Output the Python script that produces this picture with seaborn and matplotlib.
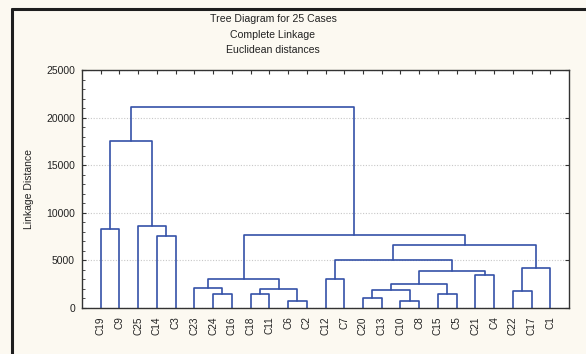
import matplotlib
matplotlib.use("Agg")
import matplotlib.pyplot as plt
from matplotlib.lines import Line2D
from matplotlib.ticker import MultipleLocator
import seaborn as sns
import pandas as pd

# ---- data ----
leaf_labels = ["C19", "C9", "C25", "C14", "C3", "C23", "C24", "C16", "C18", "C11",
               "C6", "C2", "C12", "C7", "C20", "C13", "C10", "C8", "C15", "C5",
               "C21", "C4", "C22", "C17", "C1"]
merge_names = ["m1", "m2", "m3", "m4", "m5", "m6", "m7", "m8", "m9", "m10", "m11", "m12",
               "m13", "m14", "m15", "m16", "m17", "m18", "m19", "m20", "m21", "m22", "m23", "m24"]
merge_left = ["C6", "C10", "C20", "C24", "C18", "C15", "C22", "m3", "m5", "C23", "m8", "m10",
              "C12", "C21", "m11", "m7", "m13", "m17", "m12", "C14", "C19", "C25", "m21", "m23"]
merge_right = ["C2", "C8", "C13", "C16", "C11", "C5", "C17", "m2", "m1", "m4", "m6", "m9",
               "C7", "C4", "m14", "C1", "m15", "m16", "m18", "C3", "C9", "m20", "m22", "m19"]
merge_height = [700, 735, 1020, 1440, 1440, 1470, 1785, 1860, 1960, 2070, 2490, 3010,
                3010, 3500, 3850, 4240, 5040, 6620, 7630, 7530, 8300, 8600, 17500, 21150]

title_lines = ["Tree Diagram for 25 Cases", "Complete Linkage", "Euclidean distances"]
y_label = "Linkage Distance"

# ---- build dendrogram segments ----
pos = {lab: i + 1 for i, lab in enumerate(leaf_labels)}
hgt = {lab: 0.0 for lab in leaf_labels}
rows = []
for name, l, r, h in zip(merge_names, merge_left, merge_right, merge_height):
    xl, xr = pos[l], pos[r]
    pts = [(xl, hgt[l]), (xl, h), (xr, h), (xr, hgt[r])]
    for k, (px, py) in enumerate(pts):
        rows.append({"link": name, "order": k, "x": px, "y": py})
    pos[name] = (xl + xr) / 2.0
    hgt[name] = h
df = pd.DataFrame(rows)

# ---- plot ----
sns.set_theme(style="white")
plt.rcParams["font.family"] = ["Liberation Sans", "DejaVu Sans"]
bg = "#fcf9f1"
fig = plt.figure(figsize=(5.86, 3.54), dpi=100, facecolor=bg)
ax = fig.add_axes([82 / 586, 1 - 308 / 354, (569 - 82) / 586, (308 - 70) / 354])
ax.set_facecolor("white")

ax.yaxis.grid(True, which="major", color="#c8c8c8", linestyle=(0, (1, 1.5)), linewidth=0.8)
ax.xaxis.grid(False)
ax.set_axisbelow(True)

sns.lineplot(data=df, x="x", y="y", units="link", estimator=None, sort=False,
             color="#3552a8", linewidth=1.2, legend=False, ax=ax)

ax.set_xlim(0, len(leaf_labels) + 1)
ax.set_ylim(0, 25000)
ax.set_xticks(range(1, len(leaf_labels) + 1))
ax.set_xticklabels(leaf_labels, rotation=90, fontsize=7.2, color="#222222")
ax.tick_params(axis="x", which="both", bottom=False, top=False, length=0, pad=6)
ax.yaxis.set_major_locator(MultipleLocator(5000))
ax.yaxis.set_minor_locator(MultipleLocator(1000))
ax.tick_params(axis="y", which="major", direction="in", left=True, right=True,
               length=3, width=0.8, color="#333333", labelsize=7.5, labelcolor="#222222", pad=5)
ax.tick_params(axis="y", which="minor", direction="in", left=True, right=False,
               length=2, width=0.6, color="#333333")

top = ax.secondary_xaxis("top")
top.set_xticks(range(1, len(leaf_labels) + 1))
top.set_xticklabels([])
top.tick_params(direction="in", length=3, width=0.8, color="#333333")
top.spines["top"].set_visible(False)

for s in ax.spines.values():
    s.set_color("#333333")
    s.set_linewidth(1.0)

ax.set_xlabel("")
ax.set_ylabel(y_label, fontsize=7.5, color="#222222", labelpad=9)

for i, t in enumerate(title_lines):
    fig.text(273 / 586, 1 - (19 + 15.5 * i) / 354, t, ha="center", va="center",
             fontsize=7.6, color="#222222")

# frame lines at left and top
fig.add_artist(Line2D([12 / 586, 12 / 586], [0, 1 - 9 / 354], transform=fig.transFigure,
                      color="#1e1e1e", linewidth=2.2))
fig.add_artist(Line2D([12 / 586, 1], [1 - 9 / 354, 1 - 9 / 354], transform=fig.transFigure,
                      color="#1e1e1e", linewidth=2.2))

fig.savefig("out.png", dpi=100, facecolor=bg)
